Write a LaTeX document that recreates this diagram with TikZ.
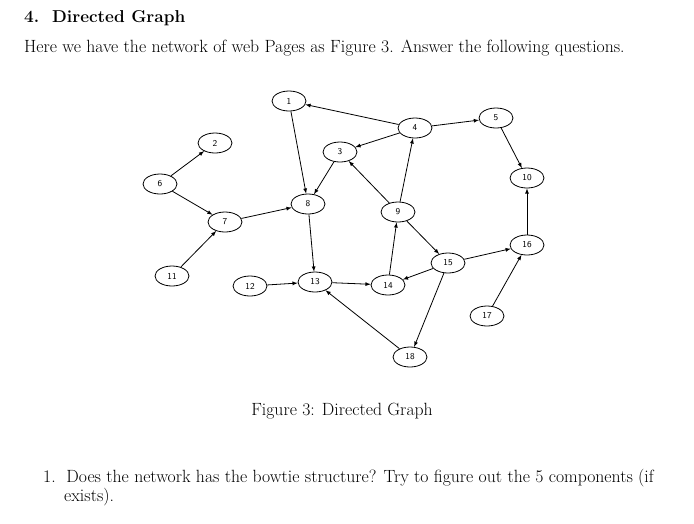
\documentclass[tikz,border=0pt]{standalone}
\usepackage{fontspec}
\begin{document}
\begin{tikzpicture}[x=1pt,y=-1pt,
  nd/.style={ellipse,draw,thick,minimum width=34pt,minimum height=20pt,inner sep=0pt,font=\sffamily\fontsize{9}{10}\selectfont},
  ed/.style={-latex,thick},
  tx/.style={anchor=west,inner sep=0pt,font=\fontsize{17.7}{21}\selectfont}]
\useasboundingbox (0,0) rectangle (694,523);
\usetikzlibrary{shapes.geometric}
\node[tx,font=\bfseries\fontsize{17.2}{21}\selectfont] at (24,18) {4.\ \ Directed Graph};
\node[tx] at (24,48) {Here we have the network of web Pages as Figure 3. Answer the following questions.};
\node[nd] (n1) at (289,101) {1};
\node[nd] (n2) at (215,143) {2};
\node[nd] (n3) at (340,152) {3};
\node[nd] (n4) at (415,128) {4};
\node[nd] (n5) at (496,118) {5};
\node[nd] (n6) at (160,184) {6};
\node[nd] (n7) at (225,222) {7};
\node[nd] (n8) at (308,204) {8};
\node[nd] (n9) at (398,212) {9};
\node[nd] (n10) at (527,178) {10};
\node[nd] (n11) at (172,276) {11};
\node[nd] (n12) at (250,286) {12};
\node[nd] (n13) at (315,282) {13};
\node[nd] (n14) at (388,285) {14};
\node[nd] (n15) at (448,263) {15};
\node[nd] (n16) at (527,245) {16};
\node[nd] (n17) at (487,316) {17};
\node[nd] (n18) at (410,357) {18};
\foreach \a/\b in {4/1,1/8,4/3,4/5,3/8,9/3,9/4,5/10,6/2,6/7,7/8,11/7,8/13,12/13,13/14,14/9,9/15,15/14,15/16,16/10,17/16,15/18,18/13}
  \draw[ed] (n\a) -- (n\b);
\node[tx,anchor=center] (cap) at (342,411) {Figure 3: Directed Graph};
\node[tx] at (43,478) {1.\ \ Does the network has the bowtie structure? Try to figure out the 5 components (if};
\node[tx] at (64,497) {exists).};
\end{tikzpicture}
\end{document}
